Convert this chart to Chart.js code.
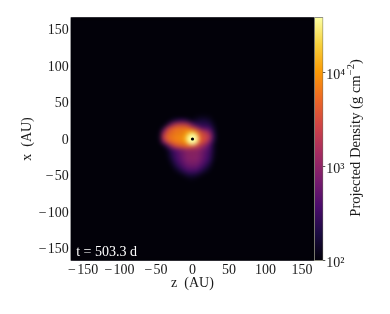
<!DOCTYPE html>
<html>
<head>
<meta charset="utf-8">
<style>
  html, body { margin: 0; padding: 0; background: #fff; }
  #wrap { position: relative; width: 390px; height: 314px; overflow: hidden; }
  canvas { position: absolute; left: 0; top: 0; }
</style>
<script src="https://cdn.jsdelivr.net/npm/chart.js@4/dist/chart.umd.js"></script>
</head>
<body>
<div id="wrap">
  <canvas id="map" width="390" height="314"></canvas>
  <canvas id="bar" width="390" height="314"></canvas>
</div>
<script>
// cell centres in AU
const zCells = [-50, -45, -40, -35, -30, -25, -20, -15, -10, -5, 0, 5, 10, 15, 20, 25, 30, 35];
const xCells = [30, 25, 20, 15, 10, 5, 0, -5, -10, -15, -20, -25, -30, -35, -40, -45, -50, -55];
// projected density, g cm^-2, one row per xCells entry
const density = [
  [100, 100, 100, 100, 100, 100, 100, 100, 100, 100, 100, 110, 120, 125, 120, 110, 100, 100],
  [100, 100, 100, 100, 120, 180, 250, 320, 270, 170, 130, 150, 170, 180, 170, 135, 105, 100],
  [100, 100, 100, 140, 600, 1500, 2200, 2500, 2300, 1400, 600, 280, 250, 250, 240, 190, 120, 100],
  [100, 100, 160, 1300, 3300, 4800, 5600, 6000, 5800, 4800, 3000, 1700, 650, 420, 380, 300, 150, 100],
  [100, 110, 800, 3000, 5200, 6200, 6600, 7200, 8500, 11000, 14000, 7500, 3600, 2300, 1400, 600, 180, 100],
  [100, 130, 1900, 4500, 6300, 7000, 7500, 8500, 11000, 20000, 38000, 17000, 5000, 3300, 2500, 1200, 240, 100],
  [100, 130, 1700, 4200, 6200, 7000, 7600, 9000, 12500, 26000, 39000, 20000, 5500, 3500, 2600, 1000, 220, 100],
  [100, 105, 500, 2000, 4500, 5600, 6400, 7400, 9500, 15000, 24000, 11000, 4500, 2900, 1600, 560, 160, 100],
  [100, 100, 110, 280, 1000, 2400, 3500, 4300, 5000, 5200, 4300, 3000, 2000, 1250, 680, 340, 130, 100],
  [100, 100, 100, 120, 240, 400, 570, 770, 1000, 1150, 1150, 1100, 950, 700, 480, 300, 140, 100],
  [100, 100, 100, 110, 200, 320, 450, 640, 840, 970, 1020, 1000, 850, 630, 430, 280, 130, 100],
  [100, 100, 100, 105, 170, 280, 400, 570, 770, 920, 970, 940, 790, 580, 390, 250, 120, 100],
  [100, 100, 100, 100, 135, 240, 360, 500, 700, 840, 890, 860, 710, 500, 340, 210, 110, 100],
  [100, 100, 100, 100, 110, 185, 285, 420, 570, 710, 760, 720, 560, 400, 260, 155, 100, 100],
  [100, 100, 100, 100, 100, 130, 200, 300, 410, 510, 540, 500, 390, 265, 175, 120, 100, 100],
  [100, 100, 100, 100, 100, 105, 125, 185, 255, 315, 335, 305, 235, 165, 125, 100, 100, 100],
  [100, 100, 100, 100, 100, 100, 100, 110, 140, 170, 180, 160, 130, 105, 100, 100, 100, 100],
  [100, 100, 100, 100, 100, 100, 100, 100, 100, 110, 115, 105, 100, 100, 100, 100, 100, 100]
];
const coreZ = [0];
const coreX = [0];
const coreDensity = [39000];
const starZ = [0];
const starX = [0];
const axisTicks = [-150, -100, -50, 0, 50, 100, 150];
const barTicks = [100, 1000, 10000];
const barRange = [100, 39000];
const axisLimit = 167;
const timeLabel = 't = 503.3 d';

// inferno, sampled every 10%
const inferno = ['#020109', '#1b0c41', '#4a0c6b', '#781c6d', '#a52c60', '#cf4446', '#ed6925', '#fb9b06', '#f7d13d', '#fcffa4'];
const serif = '"Liberation Serif", "Times New Roman", serif';

function colorFor(v) {
  const t = Math.min(1, Math.max(0, Math.log10(v / barRange[0]) / Math.log10(barRange[1] / barRange[0])));
  const pos = t * (inferno.length - 1);
  const i = Math.min(inferno.length - 2, Math.floor(pos));
  const a = parseInt(inferno[i].slice(1), 16);
  const b = parseInt(inferno[i + 1].slice(1), 16);
  const f = pos - i;
  const mix = (s) => Math.round(((a >> s) & 255) * (1 - f) + ((b >> s) & 255) * f);
  return `rgb(${mix(16)},${mix(8)},${mix(0)})`;
}

function tickText(v) {
  return v < 0 ? `\u2212\u200a${-v}` : `${v}`;
}

const heatPoints = [];
xCells.forEach((x, r) => {
  zCells.forEach((z, c) => {
    heatPoints.push({ x: z, y: x, v: density[r][c] });
  });
});

// blur the cells in place, the reference is a smooth image
const smoothCells = {
  id: 'smoothCells',
  beforeDatasetsDraw(chart) {
    const { ctx, chartArea: a } = chart;
    ctx.save();
    ctx.fillStyle = inferno[0];
    ctx.fillRect(a.left, a.top, a.width, a.height);
    ctx.restore();
  },
  afterDatasetDraw(chart, args) {
    if (args.index !== 1) return;
    const { ctx, chartArea: a } = chart;
    const copy = document.createElement('canvas');
    copy.width = chart.width;
    copy.height = chart.height;
    copy.getContext('2d').drawImage(ctx.canvas, 0, 0);
    ctx.save();
    ctx.beginPath();
    ctx.rect(a.left, a.top, a.width, a.height);
    ctx.clip();
    ctx.filter = 'blur(2px)';
    ctx.drawImage(copy, 0, 0);
    ctx.restore();
  },
  afterDraw(chart) {
    const { ctx, chartArea: a } = chart;
    ctx.save();
    ctx.font = `14px ${serif}`;
    ctx.fillStyle = '#fff';
    ctx.textBaseline = 'alphabetic';
    ctx.fillText(timeLabel, a.left + 5.5, a.bottom - 5);
    ctx.restore();
  }
};

new Chart(document.getElementById('map'), {
  type: 'scatter',
  data: {
    datasets: [
      {
        label: 'star',
        data: starZ.map((z, i) => ({ x: z, y: starX[i] })),
        pointRadius: 1.6,
        pointBorderWidth: 0,
        backgroundColor: '#000'
      },
      {
        label: 'core',
        data: coreZ.map((z, i) => ({ x: z, y: coreX[i], v: coreDensity[i] })),
        pointRadius: 6,
        pointBorderWidth: 0,
        backgroundColor: (c) => colorFor(c.raw.v)
      },
      {
        label: 'density',
        data: heatPoints,
        pointStyle: 'rect',
        pointBorderWidth: 0,
        pointRadius: (c) => {
          const s = c.chart.scales.x;
          return (s.getPixelForValue(5) - s.getPixelForValue(0)) * 0.75;
        },
        backgroundColor: (c) => colorFor(c.raw.v)
      }
    ]
  },
  options: {
    responsive: false,
    animation: false,
    events: [],
    layout: { padding: { top: 17.3, right: 75.7, left: 0, bottom: 0 } },
    plugins: { legend: { display: false }, tooltip: { enabled: false } },
    scales: {
      x: {
        type: 'linear',
        min: -axisLimit,
        max: axisLimit,
        afterFit: (s) => { s.height = 53.3; },
        afterBuildTicks: (s) => { s.ticks = axisTicks.map((value) => ({ value })); },
        grid: { display: false, drawTicks: false },
        border: { display: false },
        ticks: {
          color: '#1a1a1a',
          font: { family: serif, size: 14 },
          padding: 1,
          maxRotation: 0,
          autoSkip: false,
          callback: tickText
        },
        title: {
          display: true,
          text: 'z  (AU)',
          color: '#1a1a1a',
          font: { family: serif, size: 14 },
          padding: { top: 0, bottom: 22 }
        }
      },
      y: {
        type: 'linear',
        min: -axisLimit,
        max: axisLimit,
        afterFit: (s) => { s.width = 70.7; },
        afterBuildTicks: (s) => { s.ticks = axisTicks.map((value) => ({ value })); },
        grid: { display: false, drawTicks: false },
        border: { display: false },
        ticks: {
          color: '#1a1a1a',
          font: { family: serif, size: 14 },
          padding: 2,
          labelOffset: 1,
          autoSkip: false,
          callback: tickText
        },
        title: {
          display: true,
          text: 'x  (AU)',
          color: '#1a1a1a',
          font: { family: serif, size: 14 },
          padding: { top: 19, bottom: 0 }
        }
      }
    }
  },
  plugins: [smoothCells]
});

const barTitle = {
  id: 'barTitle',
  afterDraw(chart) {
    const { ctx, chartArea: a } = chart;
    ctx.save();
    ctx.translate(359.5, (a.top + a.bottom) / 2 - 1);
    ctx.rotate(-Math.PI / 2);
    ctx.fillStyle = '#1a1a1a';
    ctx.textBaseline = 'alphabetic';
    ctx.font = `14.6px ${serif}`;
    const main = 'Projected Density (g cm';
    const sup = '\u22122';
    const tail = ')';
    const w1 = ctx.measureText(main).width;
    const w3 = ctx.measureText(tail).width;
    ctx.font = `10.5px ${serif}`;
    const w2 = ctx.measureText(sup).width;
    const x0 = -(w1 + w2 + w3) / 2;
    ctx.font = `14.6px ${serif}`;
    ctx.fillText(main, x0, 0);
    ctx.fillText(tail, x0 + w1 + w2, 0);
    ctx.font = `10.5px ${serif}`;
    ctx.fillText(sup, x0 + w1, -5.5);
    ctx.restore();
  }
};

new Chart(document.getElementById('bar'), {
  type: 'bar',
  data: {
    labels: ['density'],
    datasets: [{
      data: [barRange],
      barPercentage: 1,
      categoryPercentage: 1,
      borderWidth: 1,
      borderSkipped: false,
      borderColor: '#6e6e5c',
      backgroundColor: (c) => {
        const a = c.chart.chartArea;
        if (!a) return inferno[0];
        const g = c.chart.ctx.createLinearGradient(0, a.bottom, 0, a.top);
        inferno.forEach((col, i) => g.addColorStop(i / (inferno.length - 1), col));
        return g;
      }
    }]
  },
  options: {
    responsive: false,
    animation: false,
    events: [],
    layout: { padding: { top: 17.3, left: 314.3, right: 0, bottom: 53.3 } },
    plugins: { legend: { display: false }, tooltip: { enabled: false } },
    scales: {
      x: { display: false },
      y: {
        type: 'logarithmic',
        position: 'right',
        min: barRange[0],
        max: barRange[1],
        afterFit: (s) => { s.width = 66.7; },
        afterBuildTicks: (s) => { s.ticks = barTicks.map((value) => ({ value })); },
        grid: { display: true, drawOnChartArea: false, tickLength: 2, color: '#555' },
        border: { display: false },
        ticks: {
          color: '#1a1a1a',
          font: { family: serif, size: 14 },
          padding: 1,
          labelOffset: 3,
          autoSkip: false,
          callback: (v) => ({ 100: '10\u00b2', 1000: '10\u00b3', 10000: '10\u2074' }[v])
        }
      }
    }
  },
  plugins: [barTitle]
});
</script>
</body>
</html>
